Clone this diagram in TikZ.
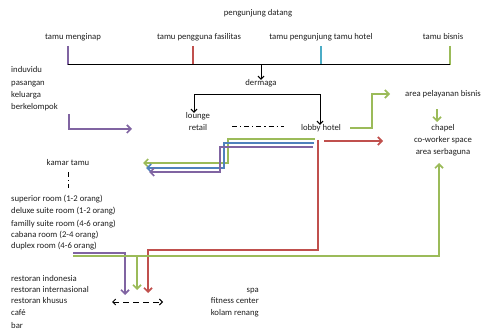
\documentclass[tikz,border=0pt]{standalone}
\usepackage{fontspec}
\setmainfont{Carlito}
\usetikzlibrary{arrows.meta}
\definecolor{ungu}{RGB}{128,100,162}
\definecolor{merah}{RGB}{192,80,77}
\definecolor{hijau}{RGB}{155,187,89}
\definecolor{biru}{RGB}{79,129,189}
\definecolor{tosca}{RGB}{75,172,198}
\definecolor{teks}{RGB}{30,30,30}

\begin{document}
\begin{tikzpicture}[x=1pt,y=-1pt,
	every node/.style={font=\fontsize{8.7}{10.5}\selectfont, text=teks, inner sep=0pt, text height=6pt, text depth=2pt},
	garis/.style={line width=1.7pt},
	panah/.style={garis, -{Straight Barb[length=4pt,width=8pt]}},
	tipis/.style={line width=1pt, black},
	titik/.style={tipis, dash pattern=on 5pt off 3pt on 1.2pt off 3pt},
	kiri/.style={anchor=west}]
	\useasboundingbox (0,0) rectangle (483,329);

	% kedatangan
	\node (datang) at (258,14) {pengunjung datang};
	\node (menginap) at (73,38) {tamu menginap};
	\node (fasilitas) at (199,38) {tamu pengguna fasilitas};
	\node (pengunjung) at (321,38) {tamu pengunjung tamu hotel};
	\node (bisnis) at (443,38) {tamu bisnis};

	\coordinate (m1) at (68,65);
	\coordinate (f1) at (193,65);
	\coordinate (p1) at (321,65);
	\coordinate (b1) at (450,65);
	\draw[garis,ungu] (68,46) -- (m1);
	\draw[garis,merah] (193,46) -- (f1);
	\draw[garis,tosca] (321,46) -- (p1);
	\draw[garis,hijau] (450,46) -- (b1);
	\draw[tipis] (m1) -- (b1);

	\node (dermaga) at (261,84) {dermaga};
	\draw[tipis,-{Straight Barb[length=3pt,width=6pt]}] (261,65) -- (dermaga.north);

	% area publik
	\node (lounge) at (198,117) {lounge};
	\node (retail) at (198,129) {retail};
	\node (lobby) at (321,129) {lobby hotel};
	\draw[tipis,{Straight Barb[length=3pt,width=6pt]}-{Straight Barb[length=3pt,width=6pt]}]
		(lounge.north -| 194,0) |- (320,95) -- (lobby.north -| 320,0);
	\draw[titik] (232,127) -- (284,127);

	\node[kiri] (induvidu) at (11,71) {induvidu};
	\node[kiri] (pasangan) at (11,84) {pasangan};
	\node[kiri] (keluarga) at (11,96) {keluarga};
	\node[kiri] (berkelompok) at (11,108) {berkelompok};
	\draw[panah,ungu] (69,114) |- (132,129);

	% kamar
	\node (kamar) at (68,164) {kamar tamu};
	\draw[titik] (kamar.south) ++(0,4) -- (68,188);
	\node[kiri] (superior) at (11,200) {superior room (1-2 orang)};
	\node[kiri] (deluxe) at (11,212) {deluxe suite room (1-2 orang)};
	\node[kiri] (familly) at (11,224) {familly suite room (4-6 orang)};
	\node[kiri] (cabana) at (11,235) {cabana room (2-4 orang)};
	\node[kiri] (duplex) at (11,247) {duplex room (4-6 orang)};

	\draw[panah,hijau] (315,139) -| (228,163) -- (143,163);
	\draw[panah,biru] (314,143) -| (224,168) -- (146,168);
	\draw[panah,ungu] (313,147) -| (220,172) -- (149,172);

	% bisnis
	\node (pelayanan) at (443,95) {area pelayanan bisnis};
	\node (chapel) at (443,129) {chapel};
	\node (coworker) at (443,141) {co-worker space};
	\node (serbaguna) at (443,153) {area serbaguna};
	\draw[panah,hijau] (350,128) -| (372,94) -- (390,94);
	\draw[panah,merah] (324,141) -- (383,141);
	\draw[panah,hijau] (pelayanan.south -| 437,0) ++(0,10) -- (437,122);

	% fasilitas
	\draw[panah,merah] (318,140) |- (148,250) -- (148,293);
	\draw[panah,ungu] (73,253) -| (125,295);
	\draw[panah,hijau] (73,256) -| (439,163);
	\draw[panah,hijau] (137,256) -- (137,290);

	\node[kiri] (indonesia) at (11,279) {restoran indonesia};
	\node[kiri] (internasional) at (11,291) {restoran internasional};
	\node[kiri] (khusus) at (11,302) {restoran khusus};
	\node[kiri] (cafe) at (11,314) {café};
	\node[kiri] (bar) at (11,326) {bar};
	\draw[tipis,dash pattern=on 6pt off 4pt,{Straight Barb[length=3pt,width=6pt]}-{Straight Barb[length=3pt,width=6pt]}] (112,302) -- (163,302);

	\node[anchor=east] (spa) at (259,291) {spa};
	\node[anchor=east] (fitness) at (259,302) {fitness center};
	\node[anchor=east] (kolam) at (259,314) {kolam renang};
\end{tikzpicture}
\end{document}
